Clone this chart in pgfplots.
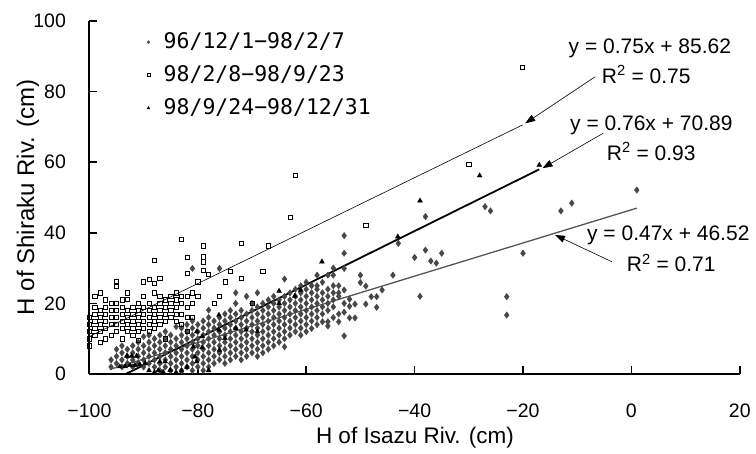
\documentclass[border=0pt]{standalone}
\usepackage{fontspec}
\setmainfont{Liberation Sans}
\newfontfamily\legfam{DejaVu Sans Mono}
\usepackage{pgfplots}
\pgfplotsset{compat=1.18}
\usetikzlibrary{arrows.meta}
\definecolor{dgray}{HTML}{474747}
\definecolor{lgray}{HTML}{555555}
\newcommand\tickfont{\fontsize{19.5bp}{22bp}\selectfont}
\newcommand\myleg{\legfam\fontsize{21.5bp}{25bp}\selectfont}
\newcommand\labfont{\fontsize{22.5bp}{26bp}\selectfont}
\newcommand\ylabfont{\fontsize{24bp}{28bp}\selectfont}
\newcommand\eqfont{\fontsize{21bp}{25bp}\selectfont}
\begin{document}
\begin{tikzpicture}
\begin{axis}[
  name=ax, at={(0,0)}, anchor=south west,
  scale only axis, width=650.4bp, height=353bp,
  xmin=-100, xmax=20, ymin=0, ymax=100,
  axis x line=bottom, axis y line=left,
  axis line style={line width=1.8bp, -},
  xtick={-100,-80,-60,-40,-20,0,20}, ytick={0,20,40,60,80,100},
  xticklabels={−100,−80,−60,−40,−20,0,20},
  yticklabels={0,20,40,60,80,100},
  tick align=inside, major tick length=8bp,
  tick style={line width=1.5bp, black},
  xticklabel style={font=\tickfont, yshift=-26bp},
  yticklabel style={font=\tickfont, xshift=-20bp},
  xlabel={H of Isazu Riv. (cm)}, ylabel={H of Shiraku Riv. (cm)},
  xlabel style={font=\labfont, at={(axis description cs:0.5006,-0.1813)}, anchor=center},
  ylabel style={font=\ylabfont, at={(axis description cs:-0.0944,0.5)}, anchor=center},
  clip=false,
  legend style={at={(axis description cs:0.081,0.966)}, anchor=north west, draw=none, fill=none,
    row sep=15bp, inner sep=0pt,
    nodes={inner sep=0pt, text height=15bp, text depth=3bp}},
  legend cell align=left,
  legend image code/.code={\path (0bp,0bp) (21bp,0bp); \path[#1, mark size=1.6bp] plot coordinates {(6bp,0bp)};},
]
\addplot[only marks, mark=diamond*, mark size=3.2bp, color=dgray, fill=dgray] coordinates {
(-96,2)(-96,4)
(-95,3)(-95,5)(-95,7)
(-94,2)(-94,4)(-94,6)(-94,8)
(-93,3)(-93,5)(-93,7)
(-92,2)(-92,4)(-92,6)(-92,8)
(-91,3)(-91,5)(-91,7)(-91,9)
(-90,2)(-90,4)(-90,6)(-90,8)(-90,10.6)
(-89,3)(-89,5)(-89,7)(-89,9)(-89,11)
(-88,2)(-88,4)(-88,6)(-88,8)(-88,10)
(-87,1)(-87,3)(-87,5)(-87,7)(-87,9)(-87,11)
(-86,2)(-86,4)(-86,6)(-86,8)(-86,10)(-86,12)
(-85,1)(-85,3)(-85,5)(-85,7)(-85,9)(-85,11)
(-84,2)(-84,4)(-84,6)(-84,8)(-84,10)(-84,13.4)
(-83,1)(-83,3)(-83,5)(-83,7)(-83,9)(-83,11)(-83,13)
(-82,2)(-82,4)(-82,6)(-82,8)(-82,10)(-82,12)(-82,14)
(-81,1)(-81,3)(-81,5)(-81,7)(-81,9)(-81,11)(-81,13)(-81,15)(-81,29.9)
(-80,2)(-80,4)(-80,6)(-80,8)(-80,10)(-80,12)(-80,14)
(-79,1)(-79,3)(-79,5)(-79,7)(-79,9)(-79,11)(-79,13)(-79,15)
(-78,2)(-78,4)(-78,6)(-78,8)(-78,10)(-78,12)(-78,14)(-78,16)(-78,18.1)
(-77,3)(-77,5)(-77,7)(-77,9)(-77,11)(-77,13)(-77,15)
(-76,4)(-76,6)(-76,8)(-76,10)(-76,12)(-76,14)(-76,16)(-76,29.9)
(-75,3)(-75,5)(-75,7)(-75,9)(-75,11)(-75,13)(-75,15)(-75,17)
(-74,4)(-74,6)(-74,8)(-74,10)(-74,12)(-74,14)(-74,16)(-74,18)
(-73,5)(-73,7)(-73,9)(-73,11)(-73,13)(-73,15)(-73,17)(-73,20)(-73,23)
(-72,4)(-72,6)(-72,8)(-72,10)(-72,12)(-72,14)(-72,16)(-72,18)
(-71,5)(-71,7)(-71,9)(-71,11)(-71,13)(-71,15)(-71,17)(-71,22)
(-70,6)(-70,8)(-70,10)(-70,12)(-70,14)(-70,16)(-70,18)(-70,20)
(-69,5)(-69,7)(-69,9)(-69,11)(-69,13)(-69,15)(-69,17)(-69,19)(-69,23)
(-68,6)(-68,8)(-68,10)(-68,12)(-68,14)(-68,16)(-68,18)(-68,20)
(-67,7)(-67,9)(-67,11)(-67,13)(-67,15)(-67,17)(-67,19)(-67,21)
(-66,8)(-66,10)(-66,12)(-66,14)(-66,16)(-66,18)(-66,20)(-66,22)
(-65,9)(-65,11)(-65,13)(-65,15)(-65,17)(-65,19)(-65,21)
(-64,7.7)(-64,10)(-64,12)(-64,14)(-64,16)(-64,18)(-64,20)(-64,22)(-64,26.9)
(-63,11)(-63,13)(-63,15)(-63,17)(-63,19)(-63,21)(-63,23)
(-62,12)(-62,14)(-62,16)(-62,18)(-62,20)(-62,22)(-62,24)
(-61,11)(-61,13)(-61,15)(-61,17)(-61,19)(-61,21)(-61,23)(-61,25)
(-60,12)(-60,14)(-60,16)(-60,18)(-60,20)(-60,22)(-60,24)(-60,26)
(-59,12.9)(-59,15)(-59,17)(-59,19)(-59,21)(-59,23)(-59,25)
(-58,14)(-58,16)(-58,18)(-58,20)(-58,22)(-58,24)(-58,25)(-58,28)
(-57,14.8)(-57,17)(-57,19)(-57,21)(-57,23)(-57,26)
(-56,13.6)(-56,14.8)(-56,18)(-56,20)(-56,22)(-56,24)(-56,28)
(-55,16)(-55,19)(-55,21)(-55,23)(-55,25)(-55,28)(-55,30)
(-54,14.8)(-54,17)(-54,22)(-54,23)(-54,25)
(-53,10.8)(-53,17.5)(-53,20)(-53,23.8)(-53,29.9)(-53,34.2)(-53,39.2)
(-52,15.9)(-52,19.2)(-52,21.2)
(-51,15.9)(-51,19.8)
(-50,25.9)(-50,28)
(-49,19.8)(-49,24.9)
(-48,21.9)
(-47,18.9)(-47,21.9)
(-46,23.8)
(-44,28)
(-43,37)
(-40,33)
(-39,22)
(-38,35.1)(-38,44.6)
(-37,32)
(-36,31.4)
(-35,34.2)
(-27,47.4)(-26,46.2)
(-23,21.9)(-23,16.7)
(-20,34.2)
(-13,46.2)(-11,48.4)
(1,52.1)
};
\addlegendentry{\myleg 96/12/1−98/2/7}
\addplot[only marks, mark=square, mark size=2.1bp, color=black, mark options={line width=0.6bp, fill=white}] coordinates {
(-100,8)(-100,10)(-100,12)(-100,14)(-100,16)
(-99,11)(-99,13)(-99,15)(-99,17)(-99,19)(-99,22)
(-98,9)(-98,12)(-98,14)(-98,16)(-98,18)(-98,23)
(-97,10)(-97,13)(-97,15)(-97,17)(-97,19)(-97,21)
(-96,11)(-96,14)(-96,16)(-96,18)(-96,20)
(-95,12)(-95,14)(-95,16)(-95,18)(-95,20)(-95,25)(-95,26.1)
(-94,10)(-94,13)(-94,15)(-94,17)(-94,19)(-94,21)
(-93,12)(-93,14)(-93,16)(-93,18)(-93,21.2)(-93,23)
(-92,11)(-92,13)(-92,15)(-92,17)(-92,19)
(-91,9.5)(-91,12)(-91,14)(-91,16)(-91,18)(-91,20)
(-90,13)(-90,15)(-90,17)(-90,19)(-90,22)(-90,26.1)
(-89,12)(-89,14)(-89,16)(-89,18)(-89,20)(-89,26.8)
(-88,13)(-88,15)(-88,17)(-88,19)(-88,23)(-88,25.7)(-88,32.1)
(-87,14)(-87,16)(-87,18)(-87,20)(-87,22)(-87,27)
(-86,10)(-86,15)(-86,17)(-86,19)(-86,21)
(-85,16)(-85,18)(-85,20)(-85,22)
(-84,15)(-84,17)(-84,19)(-84,21)(-84,23)
(-83,14)(-83,17)(-83,20)(-83,22)(-83,38.2)
(-82,12)(-82,16)(-82,19)(-82,22)(-82,28.5)(-82,33)
(-81,16.1)(-81,20)(-81,23)
(-80,22)(-80,26.1)
(-79,29.3)(-79,31.8)(-79,33.2)(-79,36.3)
(-78,28.3)(-77,20)(-76,22.1)(-75,26.1)(-74,29.2)
(-72,27)(-72,37)(-70,20)(-68,29.2)(-67,36.3)
(-63,44.4)(-62,56.4)(-49,42.2)(-30,59.4)(-20.1,86.8)
};
\addlegendentry{\myleg 98/2/8−98/9/23}
\addplot[only marks, mark=triangle*, mark size=2.8bp, color=black] coordinates {
(-94.4,2.1)(-93.4,2.1)(-93.1,5.1)(-92.5,2.5)(-92.2,5.1)(-91.6,2.5)(-91.3,5.1)
(-90.7,2.7)(-89.7,3.0)(-89,1)(-88,0.5)(-87.3,1)(-87,3.5)(-86.4,0.6)(-86,3.5)
(-85.1,1.1)(-84,0.5)(-83,0.9)(-82,2)(-80.8,7.7)(-80.5,4.9)(-80.2,3.5)(-80.2,12)
(-79.2,10.6)(-79.2,7.5)(-78,1)(-76.1,16.7)(-76.1,12.5)(-76,6.8)(-75,10.1)
(-73,12.9)(-71.1,12.5)(-69,12)(-65,23.5)(-65,20)(-62.1,22.1)(-61,23.8)
(-57.1,31.8)(-43.1,38.9)(-39,49.1)(-28,56.2)(-17,59.2)
};
\addlegendentry{\myleg 98/9/24−98/12/31}
% trend lines
\addplot[forget plot, color=lgray, line width=1.3bp] coordinates {(-96.2,1.31) (1,46.99)};
\addplot[forget plot, color=black, line width=0.6bp] coordinates {(-100,10.62) (-20.1,70.55)};
\addplot[forget plot, color=black, line width=1.8bp] coordinates {(-93.3,0.0) (-17,57.97)};
% annotations
\draw[line width=0.6bp, -{Triangle[length=10bp,width=7bp]}] (axis cs:-6.7,84.2) -- (axis cs:-19.6,71.0);
\draw[line width=0.6bp, -{Triangle[length=10bp,width=7bp]}] (axis cs:-5.2,68.2) -- (axis cs:-16.4,58.3);
\draw[line width=0.6bp, -{Triangle[length=10bp,width=7bp]}] (axis cs:-3.6,31.8) -- (axis cs:-14.1,39.4);
\node[anchor=base west, inner sep=0pt, font=\eqfont] at (axis cs:-11.6,90.8) {y = 0.75x + 85.62};
\node[anchor=base west, inner sep=0pt, font=\eqfont] at (axis cs:-5.48,82.3) {R\textsuperscript{2} = 0.75};
\node[anchor=base west, inner sep=0pt, font=\eqfont] at (axis cs:-11.33,69.1) {y = 0.76x + 70.89};
\node[anchor=base west, inner sep=0pt, font=\eqfont] at (axis cs:-4.56,60.6) {R\textsuperscript{2} = 0.93};
\node[anchor=base west, inner sep=0pt, font=\eqfont] at (axis cs:-8.2,37.96) {y = 0.47x + 46.52};
\node[anchor=base west, inner sep=0pt, font=\eqfont] at (axis cs:-0.87,29.0) {R\textsuperscript{2} = 0.71};
\end{axis}
\pgfresetboundingbox
\path (ax.south west) ++(-89.4bp,-80bp) rectangle ++(756bp,454bp);
\end{tikzpicture}
\end{document}
